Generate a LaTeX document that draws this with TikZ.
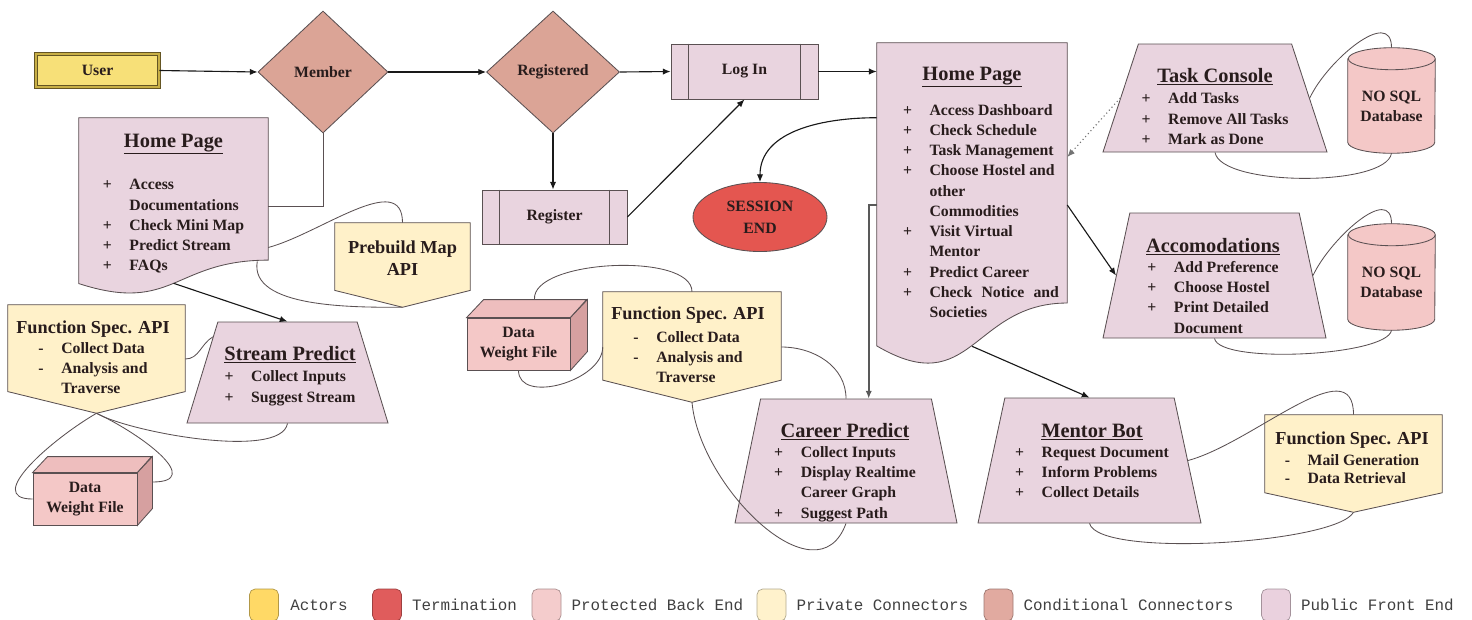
\documentclass[tikz,border=0pt]{standalone}
\usepackage{fontspec}
\setmainfont{Liberation Serif}
\setmonofont{Liberation Mono}
\usetikzlibrary{shapes.geometric,positioning,calc,backgrounds,arrows.meta}

\definecolor{actorFill}{RGB}{247,224,120}
\definecolor{actorLine}{RGB}{100,85,35}
\definecolor{actorBand}{RGB}{200,175,70}
\definecolor{endFill}{RGB}{228,86,80}
\definecolor{backFill}{RGB}{244,200,199}
\definecolor{backTop}{RGB}{238,190,190}
\definecolor{backSide}{RGB}{214,160,160}
\definecolor{privFill}{RGB}{255,241,201}
\definecolor{condFill}{RGB}{219,164,150}
\definecolor{pubFill}{RGB}{233,212,223}
\definecolor{lineC}{RGB}{90,80,82}
\definecolor{txtC}{RGB}{40,28,28}
\definecolor{keyActors}{RGB}{255,217,102}
\definecolor{keyEnd}{RGB}{224,92,92}
\definecolor{keyBack}{RGB}{244,204,204}
\definecolor{keyPriv}{RGB}{255,242,204}
\definecolor{keyCond}{RGB}{225,170,160}
\definecolor{keyPub}{RGB}{234,209,222}

\newcommand{\pxu}{0.025cm}
\newcommand{\hd}[1]{{\fontsize{14.5}{17}\selectfont\underline{#1}}}
\newcommand{\fsh}[1]{{\fontsize{13}{15}\selectfont #1}}

\begin{document}
\begin{tikzpicture}[x=0.025cm, y=-0.025cm, >={Latex[length=5.5pt,width=4.5pt]},
  every node/.style={inner sep=0pt, text=txtC, font=\bfseries\fontsize{11.2}{14.4}\selectfont},
  shapeline/.style={draw=lineC, line width=0.6pt},
  pubbox/.style={shapeline, fill=pubFill},
  privbox/.style={shapeline, fill=privFill},
  backbox/.style={shapeline, fill=backFill},
  decision/.style={diamond, shapeline, fill=condFill},
  process/.style={rectangle, pubbox},
  screen/.style={trapezium, trapezium stretches=true, inner sep=2pt, pubbox},
  holder/.style={rectangle},
  flow/.style={->, draw=black!90, line width=0.8pt},
  link/.style={draw=lineC, line width=0.6pt},
  swatch/.style={rounded corners=4pt, fill=#1, draw=#1!70!black, line width=0.5pt,
    minimum width=29*\pxu, minimum height=32*\pxu},
  keytext/.style={text=black!75, font=\ttfamily\fontsize{11.3}{13}\selectfont}
]
\useasboundingbox (0,0) rectangle (1472,619);

% Actor and login flow
\node[draw=actorLine, line width=0.6pt, double=actorBand, double distance=1.8pt, fill=actorFill,
  minimum width=123*\pxu, minimum height=33*\pxu] (user) at (97.5,70.5) {User};
\node[decision, minimum width=130*\pxu, minimum height=122*\pxu] (member) at (323,72) {Member};
\node[decision, minimum width=133*\pxu, minimum height=122*\pxu] (registered) at (553,72) {Registered};
\node[process, minimum width=147*\pxu, minimum height=55*\pxu] (login) at (744.5,71.5) {Log In};
\node[process, minimum width=145*\pxu, minimum height=54*\pxu] (register) at (554.5,217) {Register};
\draw[shapeline] ($(login.north west)+(18,0)$) -- ($(login.south west)+(18,0)$);
\draw[shapeline] ($(login.north east)+(-18,0)$) -- ($(login.south east)+(-18,0)$);
\draw[shapeline] ($(register.north west)+(18,0)$) -- ($(register.south west)+(18,0)$);
\draw[shapeline] ($(register.north east)+(-18,0)$) -- ($(register.south east)+(-18,0)$);

% Termination
\node[ellipse, shapeline, fill=endFill, minimum width=134*\pxu, minimum height=69*\pxu,
  align=center, font=\bfseries\fontsize{11.2}{15.6}\selectfont] (sessend) at (760,217) {SESSION\\END};

% Home pages (outline on background)
\node[holder, minimum width=189*\pxu, minimum height=177*\pxu] (homeL) at (173.5,206.5) {};
\node[holder, minimum width=190*\pxu, minimum height=324*\pxu] (homeR) at (972,205) {};
\node[anchor=base] (homeLtext) at (173.5,147) {\begin{tabular}[t]{@{}c@{}}\hd{Home Page}\\[16pt]
  \begin{tabular}[t]{@{}l@{\hspace{12.5pt}}l@{}}
  + & Access\\
    & Documentations\\
  + & Check Mini Map\\
  + & Predict Stream\\
  + & FAQs
  \end{tabular}\end{tabular}};
\node[anchor=base] (homeRtext) at (981,80) {\begin{tabular}[t]{@{}c@{}}\hd{Home Page}\hspace*{12.8pt}\\[10.5pt]
  \begin{tabular}[t]{@{}l@{\hspace{12.5pt}}l@{}}
  + & Access Dashboard\\
  + & Check Schedule\\
  + & Task Management\\
  + & Choose Hostel and\\
    & other\\
    & Commodities\\
  + & Visit Virtual\\
    & Mentor\\
  + & Predict Career\\
  + & \makebox[92pt][s]{Check Notice and}\\
    & Societies
  \end{tabular}\end{tabular}};

% Screens
\node[screen, trapezium angle=77, minimum width=224*\pxu, minimum height=108*\pxu] (task) at (1215,98) {};
\node[screen, trapezium angle=81, minimum width=223*\pxu, minimum height=125*\pxu] (accom) at (1214.5,275.5) {};
\node[screen, trapezium angle=77.5, minimum width=201*\pxu, minimum height=101*\pxu] (stream) at (287.5,372.5) {};
\node[screen, trapezium angle=81.5, minimum width=222*\pxu, minimum height=124*\pxu] (career) at (846,461) {};
\node[screen, trapezium angle=81, minimum width=223*\pxu, minimum height=125*\pxu] (mentor) at (1089.5,460.5) {};
\node[anchor=base] (taskText) at (1215,82) {\begin{tabular}[t]{@{}c@{}}\hd{Task Console}\\[1.2pt]
  \begin{tabular}[t]{@{}l@{\hspace{12.5pt}}l@{}}
  + & Add Tasks\\
  + & Remove All Tasks\\
  + & Mark as Done
  \end{tabular}\end{tabular}};
\node[anchor=base] (accomText) at (1213,252) {\begin{tabular}[t]{@{}c@{}}\hd{Accomodations}\\
  \begin{tabular}[t]{@{}l@{\hspace{12.5pt}}l@{}}
  + & Add Preference\\
  + & Choose Hostel\\
  + & Print Detailed\\
    & Document
  \end{tabular}\end{tabular}};
\node[anchor=base] (streamText) at (290,360) {\begin{tabular}[t]{@{}c@{}}\hd{Stream Predict}\\[1.2pt]
  \begin{tabular}[t]{@{}l@{\hspace{12.5pt}}l@{}}
  + & Collect Inputs\\
  + & Suggest Stream
  \end{tabular}\end{tabular}};
\node[anchor=base] (careerText) at (845,437) {\begin{tabular}[t]{@{}c@{}}\hd{Career Predict}\\
  \begin{tabular}[t]{@{}l@{\hspace{12.5pt}}l@{}}
  + & Collect Inputs\\
  + & Display Realtime\\
    & Career Graph\\
  + & Suggest Path
  \end{tabular}\end{tabular}};
\node[anchor=base] (mentorText) at (1092,437) {\begin{tabular}[t]{@{}c@{}}\hd{Mentor Bot}\\
  \begin{tabular}[t]{@{}l@{\hspace{12.5pt}}l@{}}
  + & Request Document\\
  + & Inform Problems\\
  + & Collect Details
  \end{tabular}\end{tabular}};

% Private connectors (outline on background)
\node[holder, minimum width=177*\pxu, minimum height=108*\pxu] (fsL) at (96.5,359) {};
\node[holder, minimum width=178*\pxu, minimum height=110*\pxu] (fsM) at (692,347) {};
\node[holder, minimum width=177*\pxu, minimum height=97*\pxu] (fsR) at (1353.5,463.5) {};
\node[holder, minimum width=135*\pxu, minimum height=84*\pxu] (prebuild) at (402.5,265) {};
\node[anchor=base] (fsLtext) at (93,333) {\begin{tabular}[t]{@{}c@{}}\fsh{Function Spec. API}\\
  \begin{tabular}[t]{@{}l@{\hspace{12.5pt}}l@{}}
  - & Collect Data\\
  - & Analysis and\\
    & Traverse
  \end{tabular}\end{tabular}};
\node[anchor=base] (fsMtext) at (688,319) {\begin{tabular}[t]{@{}c@{}}\fsh{Function Spec. API}\\[2pt]
  \begin{tabular}[t]{@{}l@{\hspace{12.5pt}}l@{}}
  - & Collect Data\\
  - & Analysis and\\
    & Traverse
  \end{tabular}\end{tabular}};
\node[anchor=base] (fsRtext) at (1352,444) {\begin{tabular}[t]{@{}c@{}}\fsh{Function Spec. API}\\[0.6pt]
  \begin{tabular}[t]{@{}l@{\hspace{12.5pt}}l@{}}
  - & Mail Generation\\[-1.5pt]
  - & Data Retrieval
  \end{tabular}\end{tabular}};
\node[align=center, font=\bfseries\fontsize{13}{15.6}\selectfont] (prebuildText) at (402.5,258) {Prebuild Map\\API};

% Back end stores
\node[holder, minimum width=87*\pxu, minimum height=94*\pxu, align=center] (db1) at (1391.5,106) {NO SQL\\Database};
\node[holder, minimum width=87*\pxu, minimum height=95*\pxu, align=center] (db2) at (1391.5,282.5) {NO SQL\\Database};
\node[rectangle, backbox, minimum width=103*\pxu, minimum height=52*\pxu, align=center] (fileM) at (518.5,344) {Data\\Weight File};
\node[rectangle, backbox, minimum width=104*\pxu, minimum height=52*\pxu, align=center] (fileL) at (85,499) {Data\\Weight File};
\draw[shapeline, fill=backTop] (fileM.north west) -- ++(17,-18) -- ++(103,0) -- (fileM.north east) -- cycle;
\draw[shapeline, fill=backSide] (fileM.north east) -- ++(17,-18) -- ++(0,52) -- (fileM.south east) -- cycle;
\draw[shapeline, fill=backTop] (fileL.north west) -- ++(15,-16) -- ++(104,0) -- (fileL.north east) -- cycle;
\draw[shapeline, fill=backSide] (fileL.north east) -- ++(15,-16) -- ++(0,52) -- (fileL.south east) -- cycle;

\begin{scope}[on background layer]
% document outlines
\draw[pubbox] (homeL.north west) -- (homeL.north east) -- ($(homeL.north east)!0.802!(homeL.south east)$)
  .. controls ($(homeL.north)!0.802!(homeL.south)$) and ($(homeL.north)!1.107!(homeL.south)$)
  .. ($(homeL.north west)!0.934!(homeL.south west)$) -- cycle;
\draw[pubbox] (homeR.north west) -- (homeR.north east) -- ($(homeR.north east)!0.802!(homeR.south east)$)
  .. controls ($(homeR.north)!0.802!(homeR.south)$) and ($(homeR.north)!1.107!(homeR.south)$)
  .. ($(homeR.north west)!0.934!(homeR.south west)$) -- cycle;
% off-page outlines
\draw[privbox] (fsL.north west) -- (fsL.north east) -- ($(fsL.north east)!0.8!(fsL.south east)$) -- (fsL.south) -- ($(fsL.north west)!0.8!(fsL.south west)$) -- cycle;
\draw[privbox] (fsM.north west) -- (fsM.north east) -- ($(fsM.north east)!0.8!(fsM.south east)$) -- (fsM.south) -- ($(fsM.north west)!0.8!(fsM.south west)$) -- cycle;
\draw[privbox] (fsR.north west) -- (fsR.north east) -- ($(fsR.north east)!0.8!(fsR.south east)$) -- (fsR.south) -- ($(fsR.north west)!0.8!(fsR.south west)$) -- cycle;
\draw[privbox] (prebuild.north west) -- (prebuild.north east) -- ($(prebuild.north east)!0.8!(prebuild.south east)$) -- (prebuild.south) -- ($(prebuild.north west)!0.8!(prebuild.south west)$) -- cycle;
% cylinders
\draw[backbox] (db1.north west) -- ($(db1.south west)+(0,-11)$) arc[start angle=180, end angle=360, x radius=43.5*\pxu, y radius=11*\pxu]
  -- (db1.north east) arc[start angle=0, end angle=180, x radius=43.5*\pxu, y radius=11*\pxu] -- cycle;
\draw[shapeline] (db1.north east) arc[start angle=0, end angle=-180, x radius=43.5*\pxu, y radius=11*\pxu];
\draw[backbox] (db2.north west) -- ($(db2.south west)+(0,-11)$) arc[start angle=180, end angle=360, x radius=43.5*\pxu, y radius=11*\pxu]
  -- (db2.north east) arc[start angle=0, end angle=180, x radius=43.5*\pxu, y radius=11*\pxu] -- cycle;
\draw[shapeline] (db2.north east) arc[start angle=0, end angle=-180, x radius=43.5*\pxu, y radius=11*\pxu];
\end{scope}

% Main flow
\draw[flow] (user.east) -- (member.west);
\draw[flow] (member.east) -- (registered.west);
\draw[flow] (registered.east) -- (login.west);
\draw[flow] (login.east) -- (login.east -| homeR.west);
\draw[flow] (registered.south) -- (registered.south |- register.north);
\draw[flow] (register.east) -- (login.south);
\draw[link] (member.south) |- (homeL.east);
\draw[flow] ($(homeR.north west)+(0,75)$) to[out=180, in=90] (sessend.north);
\coordinate (toCareer) at ($(homeR.west)+(-8,0)$);
\draw[flow, draw=black!65, line width=1.1pt] (homeR.west) -- (toCareer) -- (toCareer |- career.top side);
\draw[flow] ($(homeR.south)+(0,-21)$) -- (mentor.top side);
\draw[flow, dotted, draw=black!55] (task.left side) -- ($(homeR.east)+(0,-48)$);
\draw[flow] (homeR.east) -- (accom.left side);
\draw[flow] ($(homeL.south)+(0,-12)$) -- (stream.top side);

% Links to stores and APIs
\draw[link] (task.right side) to[out=65, in=90, looseness=1.1] ($(db1.north)+(0,-11)$);
\draw[link] (task.bottom side) to[out=-80, in=-100, looseness=0.5] (db1.south);
\draw[link] (accom.right side) to[out=65, in=90, looseness=1.1] ($(db2.north)+(0,-11)$);
\draw[link] (accom.bottom side) to[out=-80, in=-100, looseness=0.38] (db2.south);
\draw[link] (mentor.right side) to[out=15, in=90] (fsR.north);
\draw[link] (mentor.bottom side) to[out=-75, in=-120, looseness=0.35] (fsR.south);
\draw[link] (fsM.east) to[out=0, in=90] (career.top side);
\draw[link] (fsM.south) to[out=-85, in=-110, looseness=1.1] (career.bottom side);
\draw[link] ($(fileM.north)+(16,-18)$) to[out=95, in=90, looseness=0.65] (fsM.north);
\draw[link] (fileM.south) to[out=-90, in=-90] (fsM.west);
\draw[link] ($(stream.top left corner)!0.15!(stream.bottom left corner)$) to[out=210, in=0] (fsL.east);
\draw[link] (fsL.south) to[out=-30, in=-100, looseness=0.5] (stream.bottom side);
\draw[link] (fsL.south) to[out=210, in=180, looseness=1.2] (fileL.west);
\draw[link] (fsL.south) to[out=-25, in=0, looseness=1.5] ($(fileL.east)+(15,-17)$);
\draw[link] ($(homeL.east)+(0,41)$) to[out=15, in=90] (prebuild.north);
\draw[link] ($(homeL.south east)+(-11,-34)$) to[out=-100, in=180, looseness=0.8] (prebuild.south);

% Legend
\node[swatch=keyActors] (kActors) at (264,605) {};
\node[keytext, right=0.28cm of kActors] (lActors) {Actors};
\node[swatch=keyEnd] (kEnd) at (387,605) {};
\node[keytext, right=0.25cm of kEnd] (lEnd) {Termination};
\node[swatch=keyBack] (kBack) at (546.5,605) {};
\node[keytext, right=0.25cm of kBack] (lBack) {Protected Back End};
\node[swatch=keyPriv] (kPriv) at (771.5,605) {};
\node[keytext, right=0.25cm of kPriv] (lPriv) {Private Connectors};
\node[swatch=keyCond] (kCond) at (998.5,605) {};
\node[keytext, right=0.25cm of kCond] (lCond) {Conditional Connectors};
\node[swatch=keyPub] (kPub) at (1276,605) {};
\node[keytext, right=0.25cm of kPub] (lPub) {Public Front End};
\end{tikzpicture}
\end{document}
